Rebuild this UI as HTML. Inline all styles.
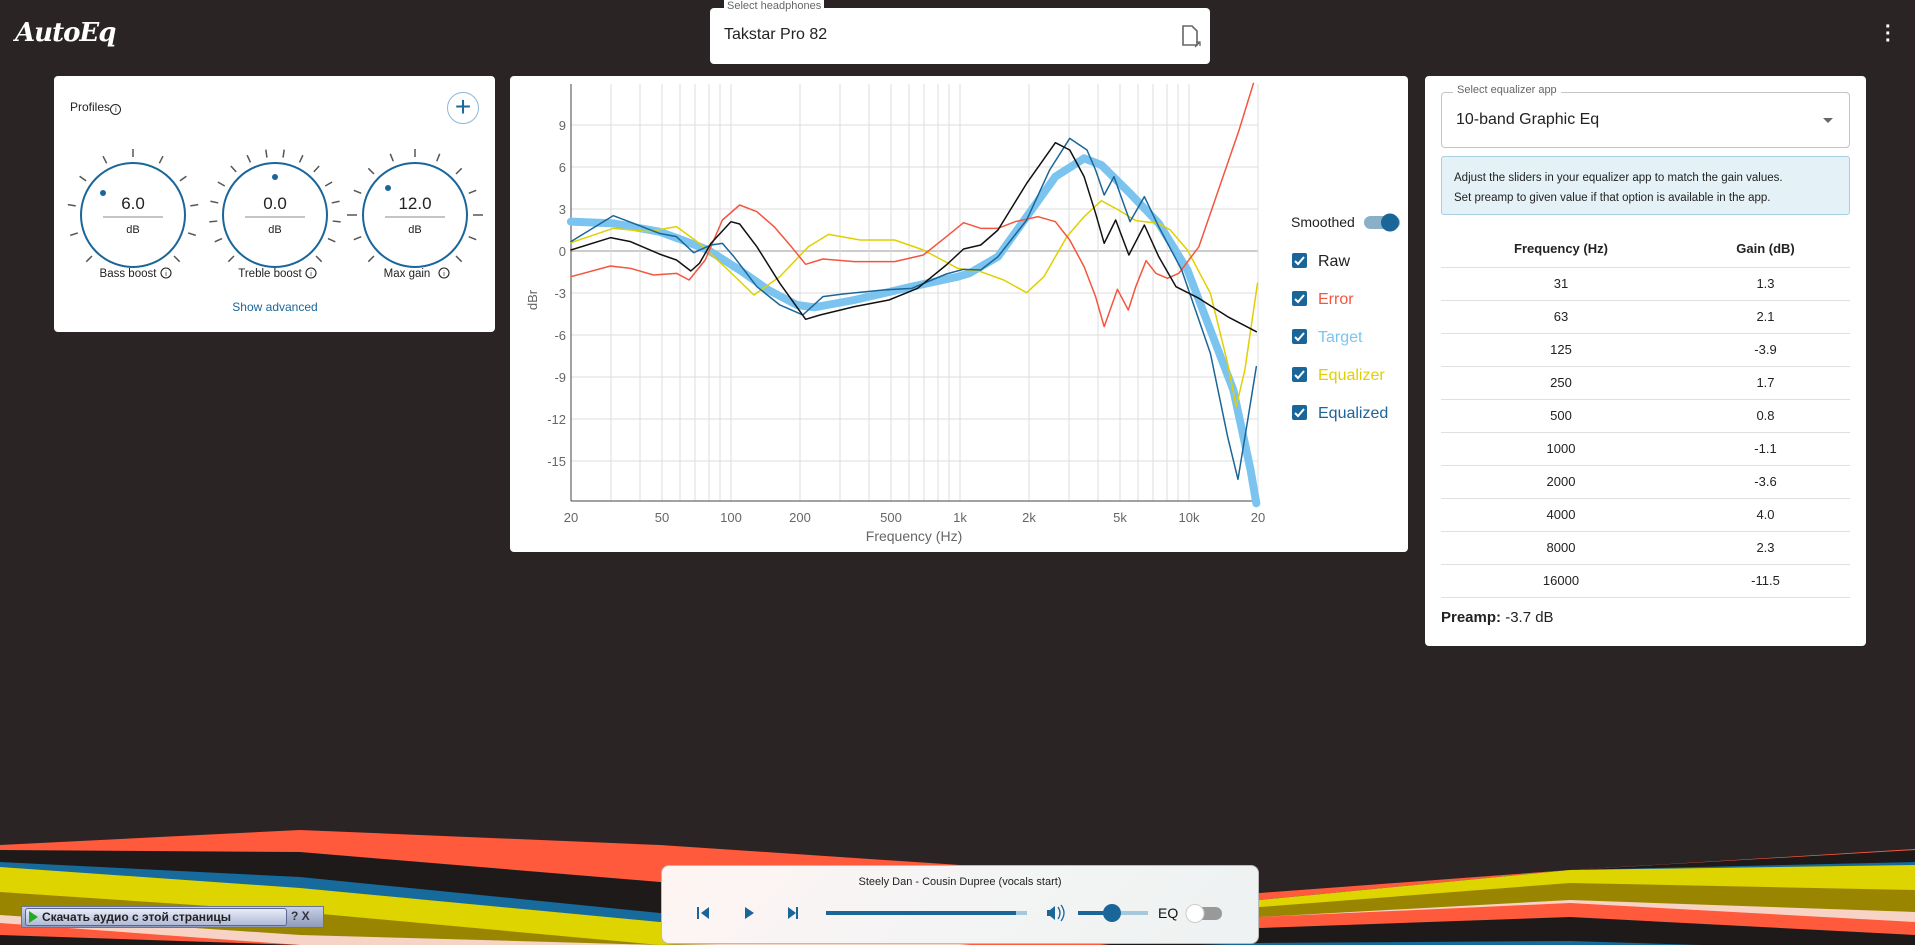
<!DOCTYPE html>
<html><head><meta charset="utf-8"><style>
*{margin:0;padding:0;box-sizing:border-box}
html,body{width:1915px;height:945px;overflow:hidden}
body{background:#2b2424;font-family:"Liberation Sans",sans-serif;position:relative}
.a{position:absolute}
.card{position:absolute;background:#fff;border-radius:4px}
.t{position:absolute;white-space:nowrap}
</style></head><body>
<!-- waves -->
<svg class="a" style="left:0;top:0" width="1915" height="945">
<polygon fill="#ff5a3c" points="0,845 300,830 660,845 960,865 1260,893 1570,870 1915,849 1915,945 0,945"/>
<polygon fill="#1e1a1a" points="0,850 300,852 660,882 960,895 1260,900 1570,870 1915,850 1915,945 0,945"/>
<polygon fill="#166a9c" points="0,862 300,877 660,913 960,905 1260,900 1570,870 1915,862 1915,945 0,945"/>
<polygon fill="#ddd400" points="0,867 300,888 660,922 960,912 1260,900 1570,870 1915,865 1915,945 0,945"/>
<polygon fill="#9a8500" points="0,892 300,912 660,945 960,925 1260,907 1570,883 1915,890 1915,945 0,945"/>
<polygon fill="#f7d3c6" points="0,915 300,935 660,945 960,940 1260,917 1570,900 1915,912 1915,945 0,945"/>
<polygon fill="#ff5a3c" points="0,923 300,945 960,945 1260,917 1570,903 1915,922 1915,945 0,945"/>
<polygon fill="#1e1a1a" points="0,935 300,945 1100,945 1260,928 1570,917 1915,935 1915,945 0,945"/>
<polygon fill="#166a9c" points="1200,945 1260,943 1570,941 1700,945"/>
</svg>
<!-- logo -->
<div class="t" style="left:15px;top:18px;color:#fff;font:italic bold 26px 'DejaVu Serif',serif;letter-spacing:-1px">AutoEq</div>
<div class="t" style="left:1885px;top:24px;color:#fff;font-size:20px;line-height:7px;font-weight:bold">·<br>·<br>·</div>
<!-- headphones select -->
<div class="card" style="left:710px;top:8px;width:500px;height:56px;border-radius:4px"></div>
<div class="t" style="left:724px;top:0px;background:#fff;padding:0 3px;font-size:11px;color:#666;line-height:13px">Select headphones</div>
<div class="t" style="left:724px;top:26px;font-size:16px;color:#222">Takstar Pro 82</div>
<svg class="a" style="left:1180px;top:25px" width="24" height="24"><path d="M3,1 h9 l5,5 v14 h-14 z" fill="none" stroke="#666" stroke-width="1.6"/><path d="M15,22 l5,-5 M16,17 h4 v4" stroke="#666" stroke-width="1.3" fill="none"/></svg>

<!-- profiles card -->
<div class="card" style="left:54px;top:76px;width:441px;height:256px"></div>
<div class="t" style="left:70px;top:100px;font-size:12px;color:#222">Profiles <span style="display:inline-block;width:11px;height:11px;border:1.3px solid #222;border-radius:50%;font-size:8px;line-height:9px;text-align:center;vertical-align:-1px;margin-left:-3px">i</span></div>
<div class="a" style="left:447px;top:92px;width:32px;height:32px;border:1px solid #8cb8d8;border-radius:50%;color:#1a6699;font-size:28px;line-height:28px;text-align:center">+</div>
<svg class="a" style="left:54px;top:76px" width="441" height="256">
<g transform="translate(79,139)">
<g stroke="#555" stroke-width="1.5">
<line x1="0" y1="-58" x2="0" y2="-66" transform="rotate(0)"/><line x1="0" y1="-58" x2="0" y2="-66" transform="rotate(27)"/><line x1="0" y1="-58" x2="0" y2="-66" transform="rotate(-27)"/><line x1="0" y1="-58" x2="0" y2="-66" transform="rotate(54)"/><line x1="0" y1="-58" x2="0" y2="-66" transform="rotate(-54)"/><line x1="0" y1="-58" x2="0" y2="-66" transform="rotate(81)"/><line x1="0" y1="-58" x2="0" y2="-66" transform="rotate(-81)"/><line x1="0" y1="-58" x2="0" y2="-66" transform="rotate(108)"/><line x1="0" y1="-58" x2="0" y2="-66" transform="rotate(-108)"/><line x1="0" y1="-58" x2="0" y2="-66" transform="rotate(135)"/><line x1="0" y1="-58" x2="0" y2="-66" transform="rotate(-135)"/></g>
<circle r="52" fill="#fff" stroke="#1a6699" stroke-width="2"/>
<circle cx="-30" cy="-22" r="3" fill="#1a6699"/>
<line x1="-30" y1="2" x2="30" y2="2" stroke="#888"/>
<text y="-6" text-anchor="middle" font-size="17" fill="#222">6.0</text>
<text y="18" text-anchor="middle" font-size="11" fill="#222">dB</text></g>
<g transform="translate(221,139)">
<g stroke="#555" stroke-width="1.5">
<line x1="0" y1="-58" x2="0" y2="-66" transform="rotate(-8)"/><line x1="0" y1="-58" x2="0" y2="-66" transform="rotate(8)"/><line x1="0" y1="-58" x2="0" y2="-66" transform="rotate(25)"/><line x1="0" y1="-58" x2="0" y2="-66" transform="rotate(-25)"/><line x1="0" y1="-58" x2="0" y2="-66" transform="rotate(42)"/><line x1="0" y1="-58" x2="0" y2="-66" transform="rotate(-42)"/><line x1="0" y1="-58" x2="0" y2="-66" transform="rotate(60)"/><line x1="0" y1="-58" x2="0" y2="-66" transform="rotate(-60)"/><line x1="0" y1="-58" x2="0" y2="-66" transform="rotate(78)"/><line x1="0" y1="-58" x2="0" y2="-66" transform="rotate(-78)"/><line x1="0" y1="-58" x2="0" y2="-66" transform="rotate(96)"/><line x1="0" y1="-58" x2="0" y2="-66" transform="rotate(-96)"/><line x1="0" y1="-58" x2="0" y2="-66" transform="rotate(114)"/><line x1="0" y1="-58" x2="0" y2="-66" transform="rotate(-114)"/><line x1="0" y1="-58" x2="0" y2="-66" transform="rotate(135)"/><line x1="0" y1="-58" x2="0" y2="-66" transform="rotate(-135)"/></g>
<circle r="52" fill="#fff" stroke="#1a6699" stroke-width="2"/>
<circle cx="0" cy="-38" r="3" fill="#1a6699"/>
<line x1="-30" y1="2" x2="30" y2="2" stroke="#888"/>
<text y="-6" text-anchor="middle" font-size="17" fill="#222">0.0</text>
<text y="18" text-anchor="middle" font-size="11" fill="#222">dB</text></g>
<g transform="translate(361,139)">
<g stroke="#555" stroke-width="1.5">
<line x1="0" y1="-58" x2="0" y2="-66" transform="rotate(0)"/><line x1="0" y1="-58" x2="0" y2="-66" transform="rotate(22)"/><line x1="0" y1="-58" x2="0" y2="-66" transform="rotate(-22)"/><line x1="0" y1="-58" x2="0" y2="-66" transform="rotate(45)"/><line x1="0" y1="-58" x2="0" y2="-66" transform="rotate(-45)"/><line x1="0" y1="-58" x2="0" y2="-66" transform="rotate(68)"/><line x1="0" y1="-58" x2="0" y2="-66" transform="rotate(-68)"/><line x1="0" y1="-58" x2="0" y2="-68" transform="rotate(90)"/><line x1="0" y1="-58" x2="0" y2="-68" transform="rotate(-90)"/><line x1="0" y1="-58" x2="0" y2="-66" transform="rotate(112)"/><line x1="0" y1="-58" x2="0" y2="-66" transform="rotate(-112)"/><line x1="0" y1="-58" x2="0" y2="-66" transform="rotate(135)"/><line x1="0" y1="-58" x2="0" y2="-66" transform="rotate(-135)"/></g>
<circle r="52" fill="#fff" stroke="#1a6699" stroke-width="2"/>
<circle cx="-27" cy="-27" r="3" fill="#1a6699"/>
<line x1="-30" y1="2" x2="30" y2="2" stroke="#888"/>
<text y="-6" text-anchor="middle" font-size="17" fill="#222">12.0</text>
<text y="18" text-anchor="middle" font-size="11" fill="#222">dB</text></g>
<g font-size="11.5" fill="#222" text-anchor="middle">
<text x="74" y="201">Bass boost</text><text x="216" y="201">Treble boost</text><text x="353" y="201">Max gain</text></g>
<g fill="none" stroke="#222" stroke-width="1.1"><circle cx="112" cy="197" r="5"/><circle cx="257" cy="197" r="5"/><circle cx="390" cy="197" r="5"/></g>
<g font-size="7" fill="#222" text-anchor="middle"><text x="112" y="200">i</text><text x="257" y="200">i</text><text x="390" y="200">i</text></g>
<text x="221" y="235" text-anchor="middle" font-size="12" fill="#1a6699">Show advanced</text>
</svg>

<!-- chart card -->
<div class="card" style="left:510px;top:76px;width:898px;height:476px"></div>
<svg class="a" style="left:0;top:0" width="1915" height="945">
<g stroke="#ddd" stroke-width="1">
<line x1="571" x2="1258" y1="125" y2="125"/><line x1="571" x2="1258" y1="167" y2="167"/><line x1="571" x2="1258" y1="209" y2="209"/><line x1="571" x2="1258" y1="251" y2="251" stroke="#ccc" stroke-width="2"/><line x1="571" x2="1258" y1="293" y2="293"/><line x1="571" x2="1258" y1="335" y2="335"/><line x1="571" x2="1258" y1="377" y2="377"/><line x1="571" x2="1258" y1="419" y2="419"/><line x1="571" x2="1258" y1="461" y2="461"/>
<line y1="84" y2="501" x1="611" x2="611"/><line y1="84" y2="501" x1="640" x2="640"/><line y1="84" y2="501" x1="662" x2="662"/><line y1="84" y2="501" x1="680" x2="680"/><line y1="84" y2="501" x1="695" x2="695"/><line y1="84" y2="501" x1="709" x2="709"/><line y1="84" y2="501" x1="720" x2="720"/><line y1="84" y2="501" x1="731" x2="731"/>
<line y1="84" y2="501" x1="800" x2="800"/><line y1="84" y2="501" x1="840" x2="840"/><line y1="84" y2="501" x1="869" x2="869"/><line y1="84" y2="501" x1="891" x2="891"/><line y1="84" y2="501" x1="909" x2="909"/><line y1="84" y2="501" x1="924" x2="924"/><line y1="84" y2="501" x1="938" x2="938"/><line y1="84" y2="501" x1="949" x2="949"/><line y1="84" y2="501" x1="960" x2="960"/>
<line y1="84" y2="501" x1="1029" x2="1029"/><line y1="84" y2="501" x1="1069" x2="1069"/><line y1="84" y2="501" x1="1098" x2="1098"/><line y1="84" y2="501" x1="1120" x2="1120"/><line y1="84" y2="501" x1="1138" x2="1138"/><line y1="84" y2="501" x1="1153" x2="1153"/><line y1="84" y2="501" x1="1167" x2="1167"/><line y1="84" y2="501" x1="1178" x2="1178"/><line y1="84" y2="501" x1="1189" x2="1189"/><line y1="84" y2="501" x1="1258" x2="1258"/>
</g>
<g stroke="#444" stroke-width="1"><line x1="571" y1="84" x2="571" y2="501"/><line x1="571" y1="501" x2="1258" y2="501"/></g>
<g font-size="13" fill="#666" text-anchor="end">
<text x="566" y="130">9</text><text x="566" y="172">6</text><text x="566" y="214">3</text><text x="566" y="256">0</text><text x="566" y="298">-3</text><text x="566" y="340">-6</text><text x="566" y="382">-9</text><text x="566" y="424">-12</text><text x="566" y="466">-15</text></g>
<g font-size="13" fill="#666" text-anchor="middle">
<text x="571" y="522">20</text><text x="662" y="522">50</text><text x="731" y="522">100</text><text x="800" y="522">200</text><text x="891" y="522">500</text><text x="960" y="522">1k</text><text x="1029" y="522">2k</text><text x="1120" y="522">5k</text><text x="1189" y="522">10k</text><text x="1258" y="522">20</text></g>
<text x="914" y="541" font-size="14" fill="#666" text-anchor="middle">Frequency (Hz)</text>
<text x="537" y="300" font-size="13" fill="#666" text-anchor="middle" transform="rotate(-90 537 300)">dBr</text>
<rect x="1259" y="76" width="10" height="430" fill="#fff"/>
<g transform="translate(510,70) scale(0.5741,0.33333)" fill="none" stroke-linejoin="round" stroke-linecap="round">
<polyline vector-effect="non-scaling-stroke" stroke="#7cc4f0" stroke-width="8" points="106,455 180,460 260,485 300,510 345,540 400,600 450,660 500,705 530,712 600,690 700,650 780,620 800,610 850,560 900,440 950,320 1000,265 1030,285 1080,370 1130,460 1180,600 1220,780 1260,960 1290,1200 1300,1300"/>
<polyline vector-effect="non-scaling-stroke" stroke="#e0d000" stroke-width="1.5" points="106,518 180,475 240,485 290,470 330,520 380,600 425,675 470,620 520,530 555,493 610,510 670,510 720,540 780,595 820,605 860,630 900,668 930,620 970,500 1000,440 1030,392 1060,420 1090,452 1130,460 1150,480 1180,540 1220,670 1250,880 1265,1010 1280,900 1302,640"/>
<polyline vector-effect="non-scaling-stroke" stroke="#f4553f" stroke-width="1.5" points="106,620 175,588 210,595 250,615 290,610 312,630 340,570 370,450 400,405 430,425 460,470 490,530 515,583 545,567 600,575 670,575 720,555 760,500 790,458 820,475 850,475 880,455 920,440 950,455 975,510 1000,590 1020,680 1035,770 1058,658 1077,720 1090,650 1108,572 1125,610 1145,625 1165,610 1200,530 1240,330 1270,180 1295,40"/>
<polyline vector-effect="non-scaling-stroke" stroke="#1a6699" stroke-width="1.5" points="106,515 180,437 230,470 260,490 290,500 320,548 350,525 370,520 390,560 430,650 470,705 510,735 545,680 580,672 650,660 700,655 760,612 790,598 820,600 850,560 900,450 940,300 975,205 1005,240 1020,300 1035,375 1052,320 1080,455 1105,380 1130,470 1170,600 1220,850 1250,1100 1268,1228 1285,1050 1300,890"/>
<polyline vector-effect="non-scaling-stroke" stroke="#111" stroke-width="1.5" points="106,540 175,503 210,515 260,552 290,570 315,603 330,580 350,520 385,455 400,462 430,530 470,640 515,748 540,735 600,710 660,690 710,655 760,585 790,537 820,525 850,480 900,340 950,218 975,240 1000,320 1020,430 1035,520 1055,450 1078,555 1105,465 1130,560 1160,650 1200,685 1250,740 1300,785"/>
</g>
<!-- legend -->
<text x="1291" y="227" font-size="14" fill="#222">Smoothed</text>
<rect x="1364" y="216" width="36" height="13" rx="6.5" fill="#8ab0c8"/>
<circle cx="1390" cy="222.5" r="9" fill="#1a6699"/>
<g fill="#1a6699"><rect x="1292" y="253" width="15" height="15" rx="2"/><rect x="1292" y="291" width="15" height="15" rx="2"/><rect x="1292" y="329" width="15" height="15" rx="2"/><rect x="1292" y="367" width="15" height="15" rx="2"/><rect x="1292" y="405" width="15" height="15" rx="2"/></g>
<g stroke="#fff" stroke-width="2" fill="none"><path d="M1295,261 l3,3 l6,-7"/><path d="M1295,299 l3,3 l6,-7"/><path d="M1295,337 l3,3 l6,-7"/><path d="M1295,375 l3,3 l6,-7"/><path d="M1295,413 l3,3 l6,-7"/></g>
<g font-size="16"><text x="1318" y="266" fill="#222">Raw</text><text x="1318" y="304" fill="#f4553f">Error</text><text x="1318" y="342" fill="#7cc4f0">Target</text><text x="1318" y="380" fill="#e0d000">Equalizer</text><text x="1318" y="418" fill="#1a6699">Equalized</text></g>
</svg>

<!-- right card -->
<div class="card" style="left:1425px;top:76px;width:441px;height:570px"></div>
<div class="a" style="left:1441px;top:92px;width:409px;height:56px;border:1px solid #c4c4c4;border-radius:4px"></div>
<div class="t" style="left:1453px;top:84px;background:#fff;padding:0 4px;font-size:11px;color:#666">Select equalizer app</div>
<div class="t" style="left:1456px;top:111px;font-size:16px;color:#222">10-band Graphic Eq</div>
<div class="a" style="left:1823px;top:118px;border-left:5px solid transparent;border-right:5px solid transparent;border-top:5px solid #666"></div>
<div class="a" style="left:1441px;top:156px;width:409px;height:59px;background:#e4f1f6;border:1px solid #a9cfe0;border-radius:3px;padding:11px 12px;font-size:11.5px;line-height:20px;color:#222">Adjust the sliders in your equalizer app to match the gain values.<br>Set preamp to given value if that option is available in the app.</div>
<div class="a" style="left:1441px;top:232px;width:409px;font-size:13px;color:#222">
<div style="height:36px;display:flex;font-weight:bold;line-height:34px;border-bottom:1px solid #e0e0e0"><div style="width:240px;text-align:center">Frequency (Hz)</div><div style="width:169px;text-align:center">Gain (dB)</div></div>
<div style="display:flex;height:33px;line-height:32px;border-bottom:1px solid #e0e0e0"><div style="width:240px;text-align:center">31</div><div style="width:169px;text-align:center">1.3</div></div>
<div style="display:flex;height:33px;line-height:32px;border-bottom:1px solid #e0e0e0"><div style="width:240px;text-align:center">63</div><div style="width:169px;text-align:center">2.1</div></div>
<div style="display:flex;height:33px;line-height:32px;border-bottom:1px solid #e0e0e0"><div style="width:240px;text-align:center">125</div><div style="width:169px;text-align:center">-3.9</div></div>
<div style="display:flex;height:33px;line-height:32px;border-bottom:1px solid #e0e0e0"><div style="width:240px;text-align:center">250</div><div style="width:169px;text-align:center">1.7</div></div>
<div style="display:flex;height:33px;line-height:32px;border-bottom:1px solid #e0e0e0"><div style="width:240px;text-align:center">500</div><div style="width:169px;text-align:center">0.8</div></div>
<div style="display:flex;height:33px;line-height:32px;border-bottom:1px solid #e0e0e0"><div style="width:240px;text-align:center">1000</div><div style="width:169px;text-align:center">-1.1</div></div>
<div style="display:flex;height:33px;line-height:32px;border-bottom:1px solid #e0e0e0"><div style="width:240px;text-align:center">2000</div><div style="width:169px;text-align:center">-3.6</div></div>
<div style="display:flex;height:33px;line-height:32px;border-bottom:1px solid #e0e0e0"><div style="width:240px;text-align:center">4000</div><div style="width:169px;text-align:center">4.0</div></div>
<div style="display:flex;height:33px;line-height:32px;border-bottom:1px solid #e0e0e0"><div style="width:240px;text-align:center">8000</div><div style="width:169px;text-align:center">2.3</div></div>
<div style="display:flex;height:33px;line-height:32px;border-bottom:1px solid #e0e0e0"><div style="width:240px;text-align:center">16000</div><div style="width:169px;text-align:center">-11.5</div></div>
</div>
<div class="t" style="left:1441px;top:609px;font-size:15px;color:#222"><b>Preamp:</b> -3.7 dB</div>

<!-- player -->
<div class="a" style="left:661px;top:865px;width:598px;height:79px;background:linear-gradient(135deg,#fff5f3,#f4f4f4 50%,#eef2f2);border:1px solid #bbb;border-radius:8px"></div>
<div class="t" style="left:661px;top:876px;width:598px;text-align:center;font-size:11px;color:#222">Steely Dan - Cousin Dupree (vocals start)</div>
<svg class="a" style="left:661px;top:865px" width="598" height="79">
<g fill="#1a6699"><rect x="36" y="42" width="2" height="12"/><path d="M48,42 l-8,6 l8,6z"/><path d="M84,42 l9,6 l-9,6z"/><path d="M127,42 l8,6 l-8,6z"/><rect x="135" y="42" width="2" height="12"/>
<rect x="165" y="46" width="190" height="4"/><rect x="355" y="46" width="11" height="4" fill="#a6c8dc"/>
<path d="M386,45 h3 l5,-4 v14 l-5,-4 h-3z"/>
<rect x="417" y="46" width="70" height="4" fill="#a6c8dc"/><rect x="417" y="46" width="34" height="4"/><circle cx="451" cy="48" r="9"/></g>
<path d="M397,42 q4,6 0,12 M400,40 q6,8 0,16" stroke="#1a6699" fill="none" stroke-width="1.3"/>
<text x="497" y="53" font-size="14" fill="#111">EQ</text>
<rect x="526" y="42" width="35" height="13" rx="6.5" fill="#999"/><circle cx="534" cy="48.5" r="9" fill="#fff" stroke="#ccc"/>
</svg>
<!-- download bar -->
<div class="a" style="left:21px;top:906px;width:303px;height:22px;background:linear-gradient(#c8d0e8,#8e9ab8);border:1px solid #6a7496"></div>
<div class="t" style="left:25px;top:908px;width:262px;height:18px;background:linear-gradient(#e8ecf8,#b0bad8);border:1px solid #5a6690;border-radius:3px;font-size:12px;font-weight:bold;color:#222;padding-left:16px;line-height:16px">Скачать аудио с этой страницы</div>
<div class="a" style="left:29px;top:911px;border-left:9px solid #2a2;border-top:6px solid transparent;border-bottom:6px solid transparent"></div>
<div class="t" style="left:291px;top:909px;font-size:12px;font-weight:bold;color:#334">? X</div>
</body></html>
